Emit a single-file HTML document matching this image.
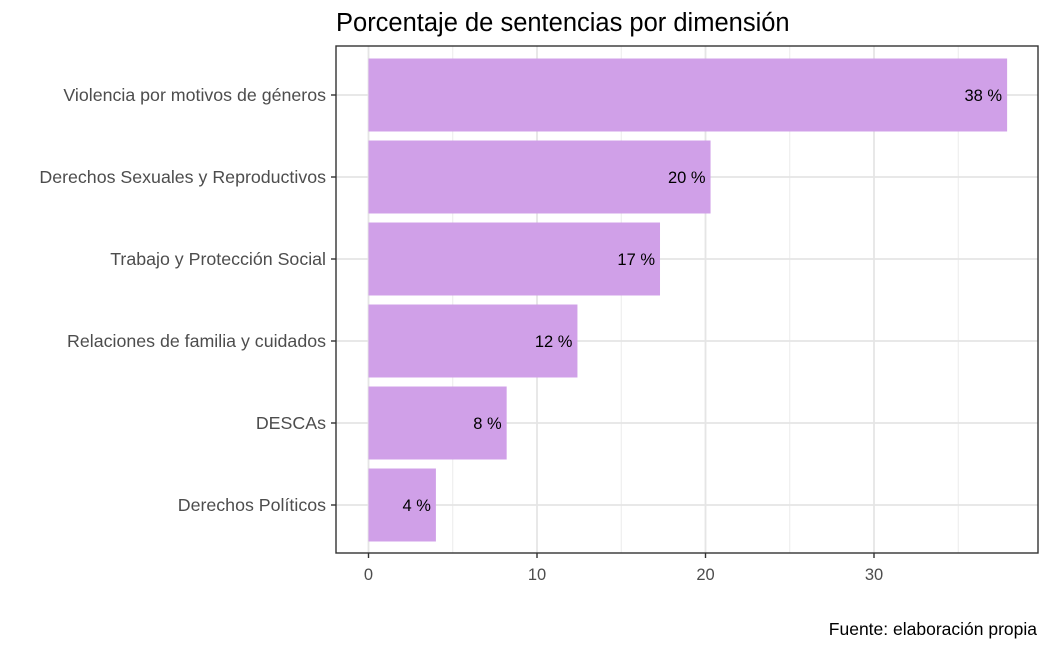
<!DOCTYPE html>
<html><head><meta charset="utf-8"><style>
body{margin:0;background:#fff;font-family:"Liberation Sans",Arial,sans-serif}
</style></head><body>
<svg id="chart" width="1050" height="648" xmlns="http://www.w3.org/2000/svg" font-family="Liberation Sans, Arial, sans-serif">
<rect width="1050" height="648" fill="#fff"/>
<text x="336" y="31" font-size="25.5" fill="#000">Porcentaje de sentencias por dimensión</text>
<text x="1037" y="635" font-size="17.5" text-anchor="end" fill="#000">Fuente: elaboración propia</text>
<g id="grid"></g><g id="bars"></g><g id="axes"></g>
<rect x="336" y="46" width="702" height="507" fill="none" stroke="#333" stroke-width="1.4"/>
</svg>
<script>
const categories=["Violencia por motivos de géneros","Derechos Sexuales y Reproductivos","Trabajo y Protección Social","Relaciones de familia y cuidados","DESCAs","Derechos Políticos"];
const values=[37.9,20.3,17.3,12.4,8.2,4.0];
const valueLabels=["38 %","20 %","17 %","12 %","8 %","4 %"];
const majorTicks=[0,10,20,30];
const minorTicks=[5,15,25,35];
const NS="http://www.w3.org/2000/svg";
const L=336,R=1038,T=46,B=553;
const x=v=>368.5+v*16.85;
const y=i=>95+i*82;
const bh=73;
function mk(tag,attrs,parent,text){const e=document.createElementNS(NS,tag);for(const k in attrs)e.setAttribute(k,attrs[k]);if(text!==undefined)e.textContent=text;document.getElementById(parent).appendChild(e);return e;}
minorTicks.forEach(t=>{const e=mk('line',{x1:x(t),x2:x(t),y1:T,y2:B,stroke:'#ebebeb','stroke-width':1},'grid');

});
majorTicks.forEach(t=>{const e=mk('line',{x1:x(t),x2:x(t),y1:T,y2:B,stroke:'#e5e5e5','stroke-width':1.8},'grid');


const tk=mk('line',{x1:x(t),x2:x(t),y1:B,y2:B+5,stroke:'#333','stroke-width':1.4},'axes');


const tl=mk('text',{x:x(t),y:B+27,'font-size':16.5,'text-anchor':'middle',fill:'#4d4d4d'},'axes',String(t));

});
categories.forEach((c,i)=>{const g=mk('line',{x1:L,x2:R,y1:y(i),y2:y(i),stroke:'#e5e5e5','stroke-width':1.8},'grid');


const b=mk('rect',{x:x(0),y:y(i)-bh/2,width:x(values[i])-x(0),height:bh,fill:'#d0a0e8'},'bars');


const v=mk('text',{x:x(values[i])-5,y:y(i)+6,'font-size':16.5,'text-anchor':'end',fill:'#000'},'bars',valueLabels[i]);


const tk=mk('line',{x1:L-5,x2:L,y1:y(i),y2:y(i),stroke:'#333','stroke-width':1.4},'axes');


const tl=mk('text',{x:L-10,y:y(i)+6,'font-size':17.8,'text-anchor':'end',fill:'#4d4d4d'},'axes',c);

});
</script>
</body></html>
